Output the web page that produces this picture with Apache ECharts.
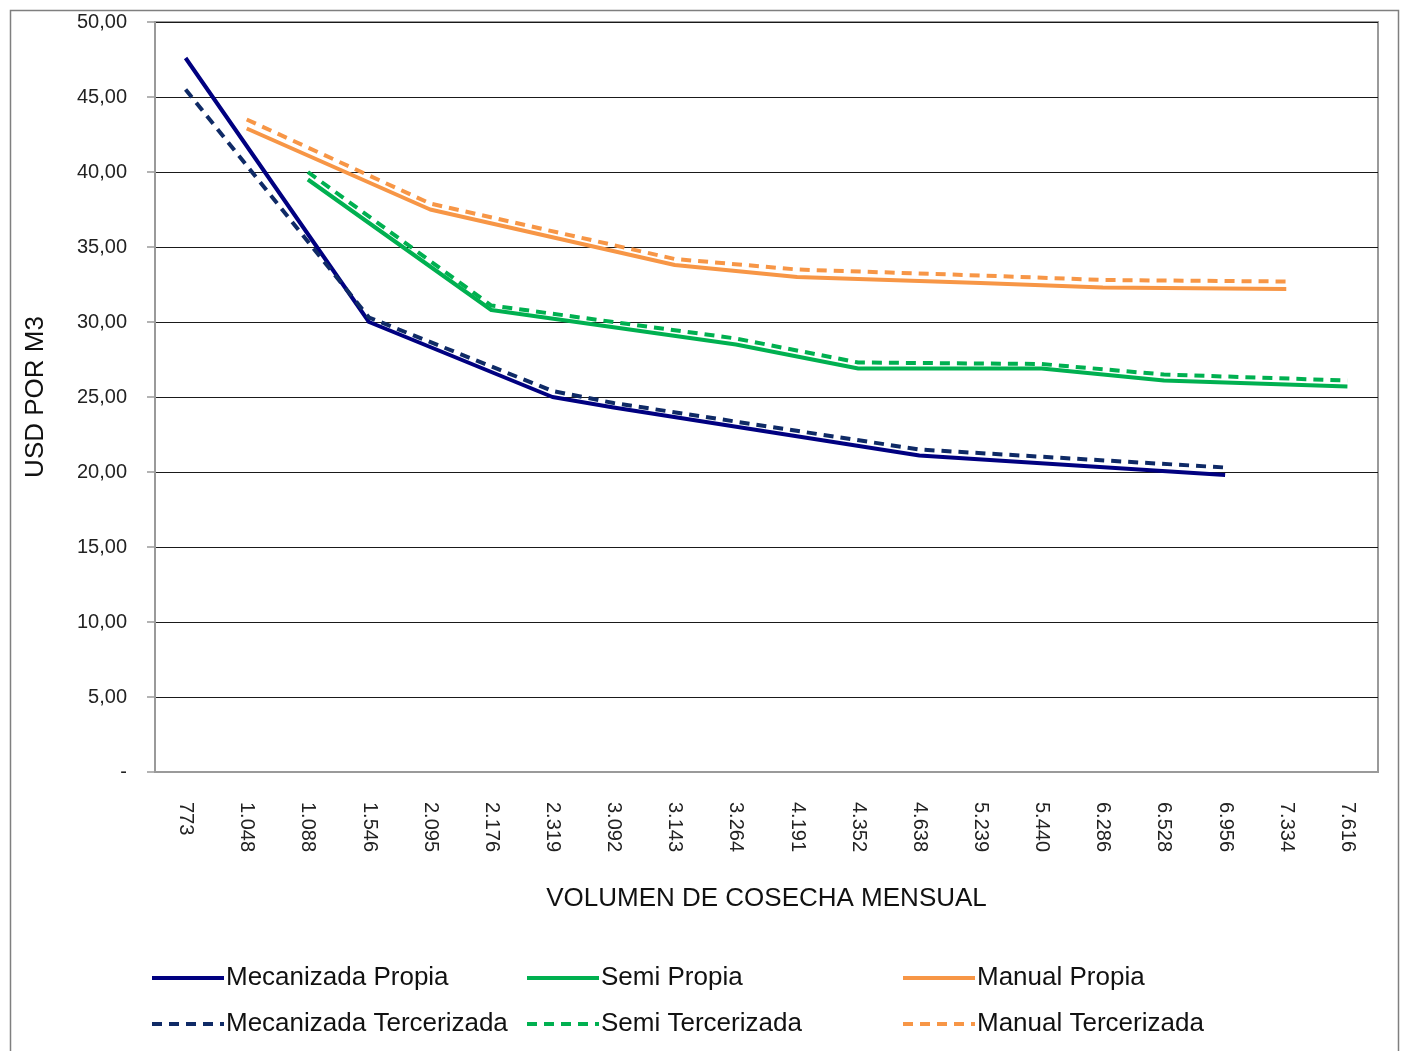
<!DOCTYPE html>
<html>
<head>
<meta charset="utf-8">
<title>Costo por m3 según volumen de cosecha</title>
<script src="https://cdn.jsdelivr.net/npm/echarts@6/dist/echarts.min.js"></script>
<style>
  html, body { margin: 0; padding: 0; background: #fff; }
  #chart { width: 1403px; height: 1051px; }
</style>
</head>
<body>
<div id="chart"></div>
<script>
// Volumen de cosecha mensual (m3) — eje de categorías
const categories = ['773', '1.048', '1.088', '1.546', '2.095', '2.176', '2.319', '3.092', '3.143', '3.264',
  '4.191', '4.352', '4.638', '5.239', '5.440', '6.286', '6.528', '6.956', '7.334', '7.616'];

// USD por m3; null = sin dato en ese volumen
const mecanizadaPropia = [47.6, null, null, 30.0, null, null, 25.0, 24.3, null, null,
  null, null, 21.1, null, null, null, null, 19.8, null, null];
const mecanizadaTercerizada = [45.5, null, null, 30.3, null, null, 25.4, 24.6, null, null,
  null, null, 21.5, null, null, null, null, 20.3, null, null];
const semiPropia = [null, null, 39.5, null, null, 30.8, null, null, null, 28.5,
  null, 26.9, null, null, 26.9, null, 26.1, null, null, 25.7];
const semiTercerizada = [null, null, 40.0, null, null, 31.1, null, null, null, 28.9,
  null, 27.3, null, null, 27.2, null, 26.5, null, null, 26.1];
const manualPropia = [null, 42.9, null, null, 37.5, null, null, null, 33.8, null,
  33.0, null, null, 32.6, null, 32.3, null, null, 32.2, null];
const manualTercerizada = [null, 43.5, null, null, 37.9, null, null, null, 34.2, null,
  33.5, null, null, 33.1, null, 32.8, null, null, 32.7, null];

// Etiquetas del eje Y (0 a 50 cada 5)
const yTickLabels = ['-', '5,00', '10,00', '15,00', '20,00', '25,00', '30,00', '35,00', '40,00', '45,00', '50,00'];

const FONT = 'Liberation Sans, Arial, sans-serif';
const NAVY = '#000080';
const NAVY_DASH = '#0F2A66';
const GREEN = '#00B050';
const ORANGE = '#F79646';
const DASH = [10, 7];

function lineSeries(name, data, color, dashed) {
  return {
    name: name,
    type: 'line',
    data: data,
    connectNulls: true,
    symbol: 'none',
    smooth: false,
    lineStyle: { color: color, width: 4, type: dashed ? DASH : 'solid', cap: 'butt', join: 'round' },
    itemStyle: { color: color },
    emphasis: { disabled: true }
  };
}

function legendColumn(left, names) {
  return {
    orient: 'vertical',
    left: left,
    top: 965,
    padding: 0,
    itemGap: 20,
    itemWidth: 72,
    itemHeight: 14,
    data: names,
    selectedMode: false,
    itemStyle: { opacity: 0, borderWidth: 0 },
    lineStyle: { width: 4 },
    textStyle: { fontFamily: FONT, fontSize: 26, color: '#111', padding: [0, 0, 0, -3] }
  };
}

const chart = echarts.init(document.getElementById('chart'), null, { renderer: 'canvas' });

chart.setOption({
  backgroundColor: '#fff',
  animation: false,
  graphic: [{
    type: 'rect',
    shape: { x: 10.5, y: 10.5, width: 1388, height: 1060 },
    style: { fill: 'none', stroke: '#7f7f7f', lineWidth: 1.5 },
    silent: true,
    z: -10
  }],
  grid: {
    left: 155, right: 25, top: 22, bottom: 279,
    show: true,
    borderColor: '#9a9a9a',
    borderWidth: 2,
    backgroundColor: 'transparent'
  },
  legend: [
    legendColumn(150, ['Mecanizada Propia', 'Mecanizada Tercerizada']),
    legendColumn(525, ['Semi Propia', 'Semi Tercerizada']),
    legendColumn(901, ['Manual Propia', 'Manual Tercerizada'])
  ],
  xAxis: {
    type: 'category',
    data: categories,
    boundaryGap: true,
    name: 'VOLUMEN DE COSECHA MENSUAL',
    nameLocation: 'middle',
    nameGap: 114,
    nameTextStyle: { fontFamily: FONT, fontSize: 26, color: '#111' },
    axisLine: { show: true, lineStyle: { color: '#9a9a9a', width: 2 } },
    axisTick: { show: false },
    axisLabel: {
      rotate: -90,
      margin: 30,
      fontFamily: FONT,
      fontSize: 20,
      color: '#222',
      interval: 0
    },
    splitLine: { show: false }
  },
  yAxis: {
    type: 'value',
    min: 0,
    max: 50,
    interval: 5,
    name: 'USD POR M3',
    nameLocation: 'middle',
    nameGap: 106,
    nameRotate: 90,
    nameTextStyle: { fontFamily: FONT, fontSize: 26, color: '#111' },
    axisLine: { show: true, lineStyle: { color: '#9a9a9a', width: 2 } },
    axisTick: { show: true, inside: false, length: 8, lineStyle: { color: '#9a9a9a', width: 1.5 } },
    axisLabel: {
      margin: 28,
      fontFamily: FONT,
      fontSize: 20,
      color: '#222',
      formatter: function (v) { return yTickLabels[Math.round(v / 5)]; }
    },
    splitLine: { show: true, lineStyle: { color: '#1a1a1a', width: 1.2 } }
  },
  series: [
    lineSeries('Mecanizada Propia', mecanizadaPropia, NAVY, false),
    lineSeries('Mecanizada Tercerizada', mecanizadaTercerizada, NAVY_DASH, true),
    lineSeries('Semi Propia', semiPropia, GREEN, false),
    lineSeries('Semi Tercerizada', semiTercerizada, GREEN, true),
    lineSeries('Manual Propia', manualPropia, ORANGE, false),
    lineSeries('Manual Tercerizada', manualTercerizada, ORANGE, true)
  ]
});
</script>
</body>
</html>
